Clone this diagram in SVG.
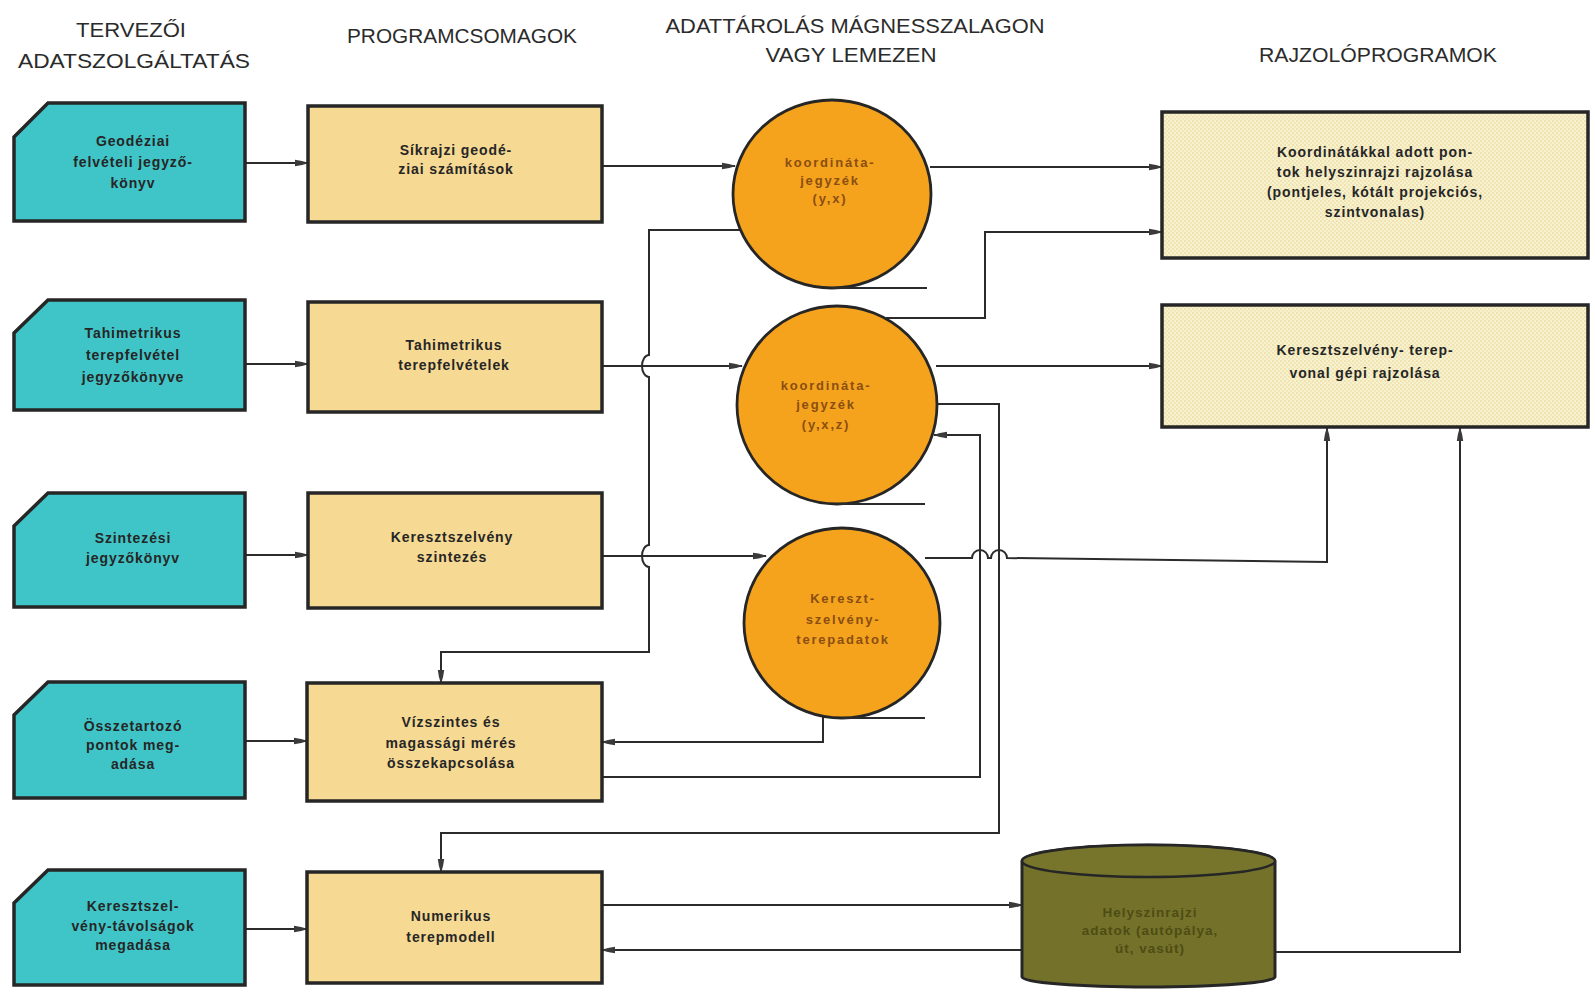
<svg xmlns="http://www.w3.org/2000/svg" width="1595" height="995" viewBox="0 0 1595 995">
<defs>
<style>
.hdr{font-family:"Liberation Sans",Arial,sans-serif;font-size:20px;fill:#2b2b2b;text-anchor:middle}
.t{font-family:"Liberation Sans",Arial,sans-serif;font-size:14px;font-weight:bold;fill:#262626;text-anchor:middle;letter-spacing:0.9px}
.ct{font-family:"Liberation Sans",Arial,sans-serif;font-size:13px;font-weight:bold;fill:#8a4e12;text-anchor:middle;letter-spacing:1.8px}
.cyt{font-family:"Liberation Sans",Arial,sans-serif;font-size:13.5px;font-weight:bold;fill:#4e4c14;text-anchor:middle;letter-spacing:1px}
.doc{fill:#3fc5c8;stroke:#262626;stroke-width:3.5}
.prog{fill:#f6d993;stroke:#262626;stroke-width:3.5}
.store{fill:#f5a31d;stroke:#262626;stroke-width:2.8}
.draw{fill:url(#dots);stroke:#262626;stroke-width:3.5}
.tape{stroke:#2b2b2b;stroke-width:2;fill:none}
.c{stroke:#2b2b2b;stroke-width:2;fill:none}
.ca{stroke:#2b2b2b;stroke-width:2;fill:none;marker-end:url(#ah)}
</style>
<pattern id="dots" width="4" height="4" patternUnits="userSpaceOnUse">
<rect width="4" height="4" fill="#f8f1cd"/>
<circle cx="1" cy="1" r="0.8" fill="#e2d38e"/>
<circle cx="3" cy="3" r="0.8" fill="#e8dca3"/>
</pattern>
<marker id="ah" viewBox="0 0 14 10" refX="13" refY="5" markerWidth="14" markerHeight="10" markerUnits="userSpaceOnUse" orient="auto">
<path d="M0,1.8 Q7,2.5 14,5 Q7,7.5 0,8.2 Z" fill="#3a3a3a"/>
</marker>
</defs>

<g id="headers">
<text class="hdr" x="131" y="37" textLength="110" lengthAdjust="spacingAndGlyphs">TERVEZŐI</text>
<text class="hdr" x="134" y="68" textLength="232" lengthAdjust="spacingAndGlyphs">ADATSZOLGÁLTATÁS</text>
<text class="hdr" x="462" y="43" textLength="230" lengthAdjust="spacingAndGlyphs">PROGRAMCSOMAGOK</text>
<text class="hdr" x="855" y="33" textLength="379" lengthAdjust="spacingAndGlyphs">ADATTÁROLÁS MÁGNESSZALAGON</text>
<text class="hdr" x="851" y="62" textLength="171" lengthAdjust="spacingAndGlyphs">VAGY LEMEZEN</text>
<text class="hdr" x="1378" y="62" textLength="238" lengthAdjust="spacingAndGlyphs">RAJZOLÓPROGRAMOK</text>
</g>

<g id="connectors">
<path class="ca" d="M245,163 H308"/>
<path class="ca" d="M245,364 H308"/>
<path class="ca" d="M245,555 H308"/>
<path class="ca" d="M245,741 H307"/>
<path class="ca" d="M245,929 H307"/>
<path class="ca" d="M602,166 H735"/>
<path class="ca" d="M602,366 H742"/>
<path class="ca" d="M602,556 H766"/>
<path class="ca" d="M930,167 H1162"/>
<path class="ca" d="M740,230 H649 V355 A7,11 0 0 0 649,377 V545 A7,11 0 0 0 649,567 V652 H441 V683"/>
<path class="ca" d="M886,318 H985 V232 H1162"/>
<path class="ca" d="M936,366 H1162"/>
<path class="ca" d="M932,404 H999 V833 H441 V872"/>
<path class="ca" d="M602,777 H980 V435 H934"/>
<path class="ca" d="M925,558 H972 A8,8 0 0 1 988,558 H991 A8,8 0 0 1 1007,558 L1327,562 V428"/>
<path class="ca" d="M823,717 V742 H602"/>
<path class="ca" d="M602,905 H1022"/>
<path class="ca" d="M1022,950 H602"/>
<path class="ca" d="M1275,952 H1460 V428"/>
</g>

<g id="doc1"><path class="doc" d="M48,103 H245 V221 H14 V137 Z"/>
<text class="t"><tspan x="133" y="146">Geodéziai</tspan><tspan x="133" y="167">felvételi jegyző-</tspan><tspan x="133" y="188">könyv</tspan></text></g>
<g id="doc2"><path class="doc" d="M48,300 H245 V410 H14 V333 Z"/>
<text class="t"><tspan x="133" y="338">Tahimetrikus</tspan><tspan x="133" y="360">terepfelvétel</tspan><tspan x="133" y="382">jegyzőkönyve</tspan></text></g>
<g id="doc3"><path class="doc" d="M48,493 H245 V607 H14 V526 Z"/>
<text class="t"><tspan x="133" y="543">Szintezési</tspan><tspan x="133" y="563">jegyzőkönyv</tspan></text></g>
<g id="doc4"><path class="doc" d="M48,682 H245 V798 H14 V715 Z"/>
<text class="t"><tspan x="133" y="731">Összetartozó</tspan><tspan x="133" y="750">pontok meg-</tspan><tspan x="133" y="769">adása</tspan></text></g>
<g id="doc5"><path class="doc" d="M48,870 H245 V985 H14 V903 Z"/>
<text class="t"><tspan x="133" y="911">Keresztszel-</tspan><tspan x="133" y="931">vény-távolságok</tspan><tspan x="133" y="950">megadása</tspan></text></g>

<g id="prog1"><rect class="prog" x="308" y="106" width="294" height="116"/>
<text class="t"><tspan x="456" y="155">Síkrajzi geodé-</tspan><tspan x="456" y="174">ziai számítások</tspan></text></g>
<g id="prog2"><rect class="prog" x="308" y="302" width="294" height="110"/>
<text class="t"><tspan x="454" y="350">Tahimetrikus</tspan><tspan x="454" y="370">terepfelvételek</tspan></text></g>
<g id="prog3"><rect class="prog" x="308" y="493" width="294" height="115"/>
<text class="t"><tspan x="452" y="542">Keresztszelvény</tspan><tspan x="452" y="562">szintezés</tspan></text></g>
<g id="prog4"><rect class="prog" x="307" y="683" width="295" height="118"/>
<text class="t"><tspan x="451" y="727">Vízszintes és</tspan><tspan x="451" y="748">magassági mérés</tspan><tspan x="451" y="768">összekapcsolása</tspan></text></g>
<g id="prog5"><rect class="prog" x="307" y="872" width="295" height="111"/>
<text class="t"><tspan x="451" y="921">Numerikus</tspan><tspan x="451" y="942">terepmodell</tspan></text></g>

<g id="store1"><ellipse class="store" cx="832" cy="194" rx="99" ry="94"/>
<path class="tape" d="M832,288 H927"/>
<text class="ct"><tspan x="830" y="167">koordináta-</tspan><tspan x="830" y="185">jegyzék</tspan><tspan x="830" y="203">(y,x)</tspan></text></g>
<g id="store2"><ellipse class="store" cx="837" cy="405" rx="100" ry="99"/>
<path class="tape" d="M837,504 H925"/>
<text class="ct"><tspan x="826" y="390">koordináta-</tspan><tspan x="826" y="409">jegyzék</tspan><tspan x="826" y="429">(y,x,z)</tspan></text></g>
<g id="store3"><ellipse class="store" cx="842" cy="623" rx="98" ry="95"/>
<path class="tape" d="M842,718 H925"/>
<text class="ct"><tspan x="843" y="603">Kereszt-</tspan><tspan x="843" y="624">szelvény-</tspan><tspan x="843" y="644">terepadatok</tspan></text></g>

<g id="draw1"><rect class="draw" x="1162" y="112" width="426" height="146"/>
<text class="t"><tspan x="1375" y="157">Koordinátákkal adott pon-</tspan><tspan x="1375" y="177">tok helyszinrajzi rajzolása</tspan><tspan x="1375" y="197">(pontjeles, kótált projekciós,</tspan><tspan x="1375" y="217">szintvonalas)</tspan></text></g>
<g id="draw2"><rect class="draw" x="1162" y="305" width="426" height="122"/>
<text class="t"><tspan x="1365" y="355">Keresztszelvény- terep-</tspan><tspan x="1365" y="378">vonal gépi rajzolása</tspan></text></g>

<g id="cylinder">
<path d="M1022,861 V977 A126.5,10 0 0 0 1275,977 V861 A126.5,16 0 0 0 1022,861 Z" fill="#74722a" stroke="#262626" stroke-width="3"/>
<ellipse cx="1148.5" cy="861" rx="126.5" ry="16" fill="#77752c" stroke="#262626" stroke-width="2.5"/>
<text class="cyt"><tspan x="1150" y="917">Helyszinrajzi</tspan><tspan x="1150" y="935">adatok (autópálya,</tspan><tspan x="1150" y="953">út, vasút)</tspan></text>
</g>
</svg>
